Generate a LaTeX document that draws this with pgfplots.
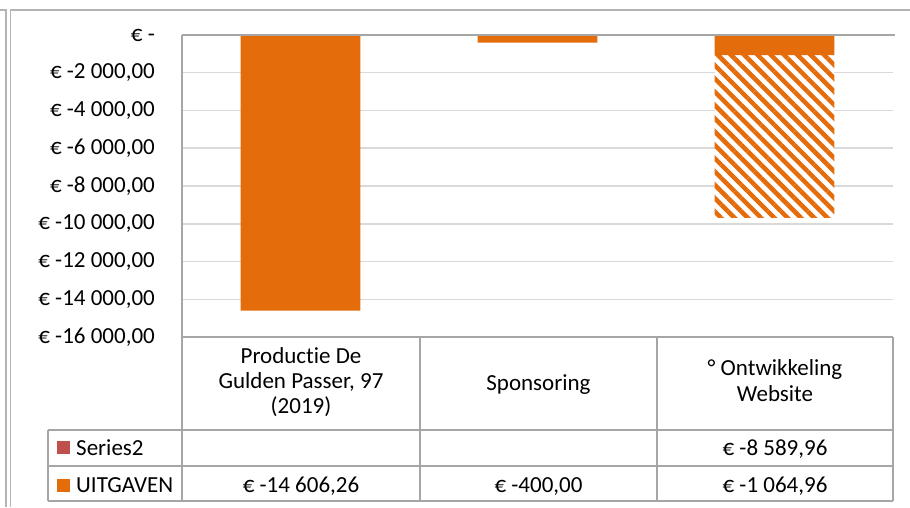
\documentclass[border=0pt]{standalone}
\usepackage{pgfplots}
\pgfplotsset{compat=1.18}
\usepackage{fontspec}
\setmainfont{Carlito}[Ligatures=NoCommon]
\usetikzlibrary{patterns.meta}
\definecolor{orX}{HTML}{E46C0A}
\definecolor{redX}{HTML}{C0504D}
\definecolor{gridX}{HTML}{D9D9D9}
\definecolor{lineX}{HTML}{A6A6A6}
\definecolor{frameX}{HTML}{B4B4B4}
\newcommand\fs{\fontsize{23}{25}\selectfont}
\begin{document}
\begin{tikzpicture}[x=1pt,y=1pt]
\path[use as bounding box] (0,0) rectangle (910,507);
% outer frame
\draw[frameX, line width=1.5pt] (0,497) -- (6,497) -- (6,0);
\draw[frameX, line width=1.5pt] (10.5,0) -- (10.5,497) -- (910,497);
\begin{axis}[
 at={(182pt,170pt)}, anchor=south west,
 scale only axis, width=711pt, height=302pt,
 xmin=-0.5, xmax=2.5, ymin=-16000, ymax=0,
 ybar stacked, bar width=0.505,
 xtick=\empty,
 scaled y ticks=false,
 ytick={0,-2000,-4000,-6000,-8000,-10000,-12000,-14000,-16000},
 yticklabels={{€ -\hspace{11pt}},{€ -2 000,00},{€ -4 000,00},{€ -6 000,00},{€ -8 000,00},{€ -10 000,00},{€ -12 000,00},{€ -14 000,00},{€ -16 000,00}},
 yticklabel style={font=\fs, anchor=east, inner sep=0pt, xshift=-27pt},
 major tick length=0pt,
 axis line style={draw=none},
 ymajorgrids, grid style={gridX, line width=1.5pt},
 clip=false,
]
\addplot[fill=orX, draw=none] coordinates {(0,-14606.26) (1,-400) (2,-1064.96)};
\addplot[fill=white, draw=none, postaction={pattern={Lines[angle=-45,distance=9.4pt,line width=4.5pt]}, pattern color=orX}] coordinates {(0,0) (1,0) (2,-8589.96)};
\end{axis}
% axis lines
\draw[lineX, line width=1.5pt] (182,472) -- (895,472);
\draw[lineX, line width=1.5pt] (182,472) -- (182,6);
% data table
\draw[lineX, line width=1.5pt] (182,170) -- (893,170);
\draw[lineX, line width=1.5pt] (48,77) -- (893,77);
\draw[lineX, line width=1.5pt] (48,41) -- (893,41);
\draw[lineX, line width=1.5pt] (48,6) -- (893,6);
\draw[lineX, line width=1.5pt] (48,77) -- (48,6);
\draw[lineX, line width=1.5pt] (420,170) -- (420,6);
\draw[lineX, line width=1.5pt] (657,170) -- (657,6);
\draw[lineX, line width=1.5pt] (893,170) -- (893,6);
% header texts
\node[font=\fs, anchor=base, inner sep=0pt] at (301,144) {Productie De};
\node[font=\fs, anchor=base, inner sep=0pt] at (301,119) {Gulden Passer, 97};
\node[font=\fs, anchor=base, inner sep=0pt] at (301,94) {(2019)};
\node[font=\fs, anchor=base, inner sep=0pt] at (538.5,117) {Sponsoring};
\node[font=\fs, anchor=base, inner sep=0pt] at (775,132) {° Ontwikkeling};
\node[font=\fs, anchor=base, inner sep=0pt] at (775,106) {Website};
% legend column
\fill[redX] (57,53) rectangle (70,66);
\fill[orX] (57,15) rectangle (70,28);
\node[font=\fs, anchor=base west, inner sep=0pt] at (76,52) {Series2};
\node[font=\fs, anchor=base west, inner sep=0pt] at (76,15) {UITGAVEN};
% values
\node[font=\fs, anchor=base, inner sep=0pt] at (775,52) {€ -8 589,96};
\node[font=\fs, anchor=base, inner sep=0pt] at (301,15) {€ -14 606,26};
\node[font=\fs, anchor=base, inner sep=0pt] at (538.5,15) {€ -400,00};
\node[font=\fs, anchor=base, inner sep=0pt] at (775,15) {€ -1 064,96};
\end{tikzpicture}
\end{document}
